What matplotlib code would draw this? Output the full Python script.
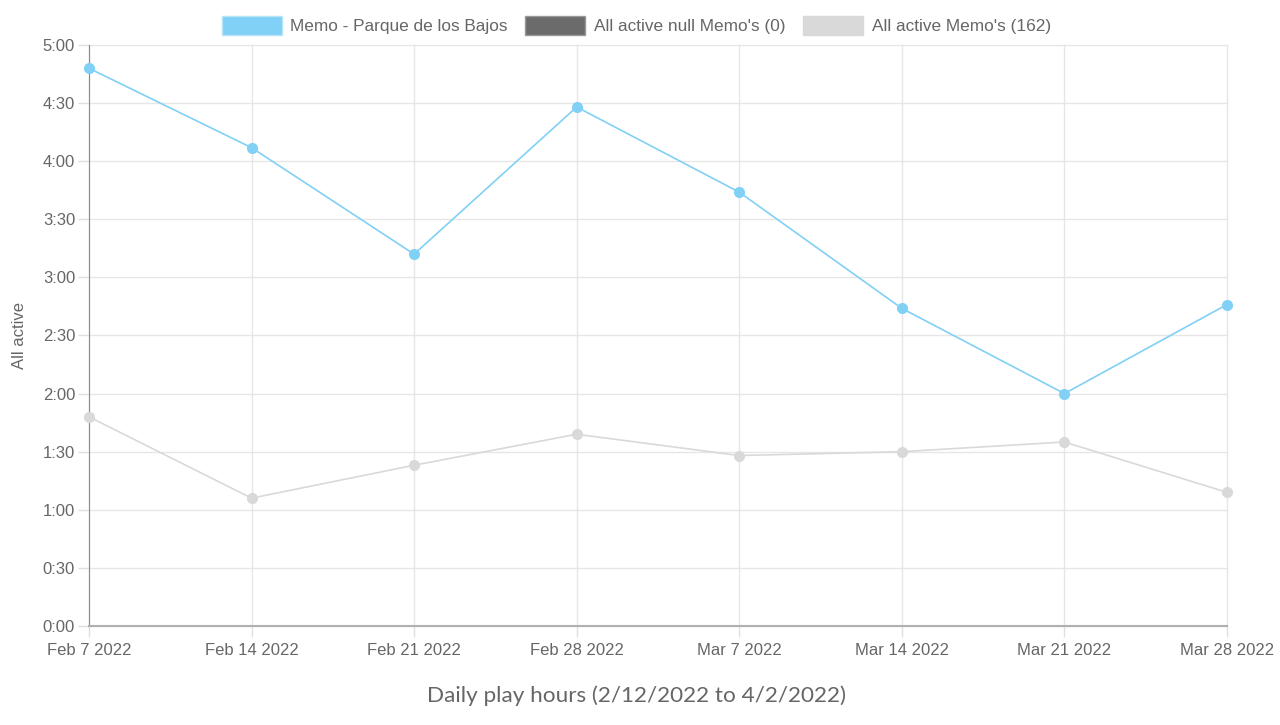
import matplotlib
matplotlib.use("Agg")
from matplotlib import pyplot as plt
from matplotlib.patches import Patch
from matplotlib.ticker import FuncFormatter, MultipleLocator
import numpy as np

# weekly labels and daily play time in minutes
dates = ["Feb 7 2022", "Feb 14 2022", "Feb 21 2022", "Feb 28 2022",
         "Mar 7 2022", "Mar 14 2022", "Mar 21 2022", "Mar 28 2022"]
memo_minutes = [288, 247, 192, 268, 224, 164, 120, 166]
all_minutes = [108, 66, 83, 99, 88, 90, 95, 69]

legend_labels = ["Memo - Parque de los Bajos", "All active null Memo's (0)",
                 "All active Memo's (162)"]
blue = "#81d0f5"
dark = "#6b6b6b"
light = "#d9d9d9"
text_col = "#666666"

plt.rcParams['font.family'] = ['Liberation Sans', 'DejaVu Sans']

fig = plt.figure(figsize=(12.8, 7.25), dpi=100)
ax = fig.add_axes([0.0695, 0.1366, 0.8891, 0.8013])

x = np.arange(len(dates))
ax.plot(x, all_minutes, color=light, lw=1.2, marker="o", ms=8,
        markeredgewidth=0, zorder=3, clip_on=False)
ax.plot(x, memo_minutes, color=blue, lw=1.2, marker="o", ms=8,
        markeredgewidth=0, zorder=4, clip_on=False)

ax.set_xlim(0, len(dates) - 1)
ax.set_ylim(0, 300)
ax.set_xticks(x)
ax.set_xticklabels(dates)
ax.yaxis.set_major_locator(MultipleLocator(30))
ax.yaxis.set_major_formatter(FuncFormatter(lambda v, p: f"{int(v) // 60}:{int(v) % 60:02d}"))

ax.grid(True, color="#e6e6e6", lw=1)
ax.set_axisbelow(True)
for l in ax.get_xgridlines() + ax.get_ygridlines():
    l.set_clip_on(False)
for s in ["top", "right"]:
    ax.spines[s].set_visible(False)
ax.spines["left"].set_color("#8a8a8a")
ax.spines["bottom"].set_color("#b0b0b0")
ax.spines["bottom"].set_linewidth(1.5)
ax.tick_params(axis="both", colors="#e0e0e0", labelcolor=text_col,
               labelsize=12, length=8, width=1)
ax.tick_params(axis="x", pad=4)
ax.tick_params(axis="y", pad=2)

ax.set_ylabel("All active", fontsize=12, color=text_col, labelpad=11)
fig.text(0.497, 0.041, "Daily play hours (2/12/2022 to 4/2/2022)",
         fontsize=16.2, color=text_col, ha="center", va="center",
         family=["Lato", "DejaVu Sans"])

handles = [Patch(facecolor=blue, edgecolor="#b8e4f9"),
           Patch(facecolor=dark, edgecolor="#999999"),
           Patch(facecolor=light, edgecolor=light)]
leg = fig.legend(handles, legend_labels, loc="upper center", ncol=3,
                 bbox_to_anchor=(0.497, 0.999), frameon=False, fontsize=12.4,
                 handlelength=3.5, handleheight=1.3, columnspacing=1.0,
                 handletextpad=0.5)
for t in leg.get_texts():
    t.set_color(text_col)

fig.savefig("out.png", dpi=100, facecolor="white")
